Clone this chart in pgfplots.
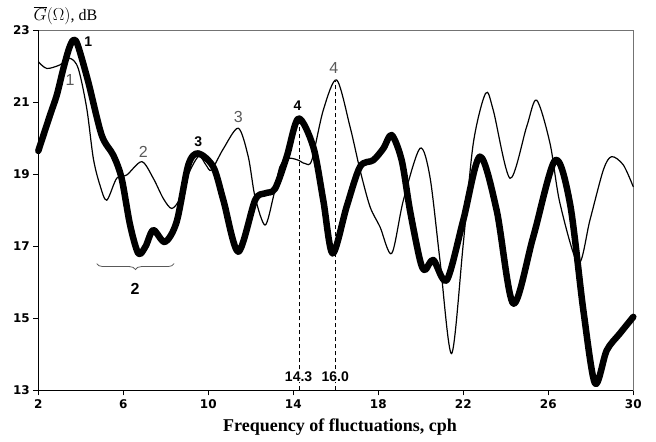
\documentclass[border=0pt]{standalone}
\usepackage{fontspec}
\usepackage{pgfplots}
\pgfplotsset{compat=1.18}
\usetikzlibrary{decorations.pathreplacing}
\newfontfamily\arialf{Liberation Sans}
\newfontfamily\dejaf{DejaVu Sans}
\newfontfamily\serif{Liberation Serif}
\definecolor{lbl}{gray}{0.35}
\definecolor{frame}{gray}{0.45}

\begin{document}
\begin{tikzpicture}
\path[use as bounding box] (-38.3pt,-51pt) rectangle (617.7pt,390.3pt);
\begin{axis}[
  scale only axis, width=595pt, height=360pt,
  xmin=2, xmax=30, ymin=13, ymax=23,
  xtick={2,6,...,30}, ytick={13,15,...,23},
  axis line style={frame, line width=0.8pt},
  tick align=outside, tick pos=left,
  major tick length=5pt,
  tick style={black, line width=0.8pt},
  tick label style={font=\dejaf\bfseries\fontsize{12}{12}\selectfont},
  /pgf/number format/assume math mode=true,
  xticklabel style={yshift=-1pt},
  clip=false,
]
% axes left / bottom in black
\draw[black, line width=0.9pt] (rel axis cs:0,1) -- (rel axis cs:0,0) -- (rel axis cs:1,0);

% thin curve
\addplot[black, line width=1.2pt, smooth, tension=0.5] coordinates {
(2,22.13) (2.4,21.94) (3.02,22.04) (3.49,22.22) (3.88,21.94) (4.28,20.83)
(4.59,19.44) (4.9,18.7) (5.22,18.28) (5.69,18.89) (6.16,18.98) (6.87,19.35)
(7.41,18.89) (7.88,18.33) (8.28,18.05) (8.67,18.33) (9.06,19.0) (9.55,19.5)
(9.9,19.25) (10.15,19.12) (10.7,19.7) (11.41,20.28) (11.88,19.49) (12.2,18.37)
(12.67,17.59) (13.06,18.37) (13.37,19.21) (13.76,19.44) (14.2,19.4) (14.55,19.3)
(14.87,19.39) (15.41,20.78) (16.04,21.62) (16.67,20.32) (17.14,19.12) (17.61,18.1)
(18.08,17.54) (18.63,16.8) (19.18,18.28) (19.96,19.72) (20.43,18.93) (20.9,16.62)
(21.45,14.02) (22.0,17.08) (22.47,19.86) (23.05,21.25) (23.41,20.78) (24.2,18.89)
(24.98,20.32) (25.45,21.06) (26.08,19.86) (26.55,18.19) (27.41,16.52) (27.96,17.73)
(28.59,19.12) (28.98,19.49) (29.53,19.26) (30,18.65)
};

% thick curve
\addplot[black, line width=6.5pt, smooth, tension=0.5, line join=round, line cap=round] coordinates {
(2,19.65) (2.55,20.64) (2.87,21.2) (3.18,21.94) (3.45,22.5) (3.65,22.73) (3.85,22.6)
(4.35,21.57) (4.98,20.09) (5.53,19.53) (5.92,18.89) (6.32,17.59) (6.71,16.8)
(7.05,17.0) (7.41,17.45) (7.96,17.12) (8.51,17.68) (9.06,19.26) (9.53,19.58)
(10.24,19.2) (10.71,18.28) (11.41,16.85) (12.2,18.28) (12.67,18.47) (13.14,18.6)
(13.69,19.49) (14.24,20.55) (14.94,19.76) (15.41,18.28) (15.85,16.8) (16.51,18.1)
(17.14,19.21) (17.76,19.39) (18.24,19.72) (18.63,20.09) (19.1,19.39) (19.49,18.0)
(19.96,16.62) (20.2,16.34) (20.59,16.62) (21.22,16.06) (22.0,17.73) (22.78,19.49)
(23.57,18.0) (24.35,15.41) (25.29,17.26) (26.32,19.39) (27.02,18.19) (27.65,15.22)
(28.2,13.19) (28.75,14.11) (29.37,14.58) (30,15.04)
};

% dashed markers
\draw[black, dashed, dash pattern=on 4pt off 3pt, line width=0.8pt] (axis cs:14.3,13) -- (axis cs:14.3,20.5);
\draw[black, dashed, dash pattern=on 4pt off 3pt, line width=0.8pt] (axis cs:16.0,13) -- (axis cs:16.0,21.6);
\node[fill=white, inner sep=1pt, anchor=base, font=\arialf\bfseries\fontsize{14}{14}\selectfont] at (axis cs:14.25,13.25) {14.3};
\node[fill=white, inner sep=1pt, anchor=base, font=\arialf\bfseries\fontsize{14}{14}\selectfont] at (axis cs:15.97,13.25) {16.0};

% curve labels
\node[font=\arialf\bfseries\fontsize{14}{14}\selectfont] at (axis cs:4.35,22.68) {1};
\node[font=\arialf\bfseries\fontsize{14}{14}\selectfont] at (axis cs:9.53,19.9) {3};
\node[font=\arialf\bfseries\fontsize{14}{14}\selectfont] at (axis cs:14.2,20.9) {4};
\node[lbl, font=\arialf\fontsize{16}{16}\selectfont] at (axis cs:3.49,21.62) {1};
\node[lbl, font=\arialf\fontsize{16}{16}\selectfont] at (axis cs:6.94,19.62) {2};
\node[lbl, font=\arialf\fontsize{16}{16}\selectfont] at (axis cs:11.41,20.6) {3};
\node[lbl, font=\arialf\fontsize{16}{16}\selectfont] at (axis cs:15.91,21.94) {4};

% brace
\draw[lbl, line width=0.8pt, decorate, decoration={brace, mirror, amplitude=6pt}] (axis cs:4.75,16.52) -- (axis cs:8.39,16.52);
\node[font=\arialf\bfseries\fontsize{16}{16}\selectfont] at (axis cs:6.55,15.83) {2};

% axis titles
\node[anchor=base, font=\serif\bfseries\fontsize{18}{18}\selectfont] at (rel axis cs:0.507,0) [yshift=-41pt] {Frequency of fluctuations, cph};
\node[anchor=base west, font=\serif\fontsize{16}{16}\selectfont, inner sep=0pt] at (rel axis cs:0,1) [xshift=-5pt, yshift=10pt] {$\overline{G}(\Omega)$, dB};
\end{axis}
\end{tikzpicture}
\end{document}
